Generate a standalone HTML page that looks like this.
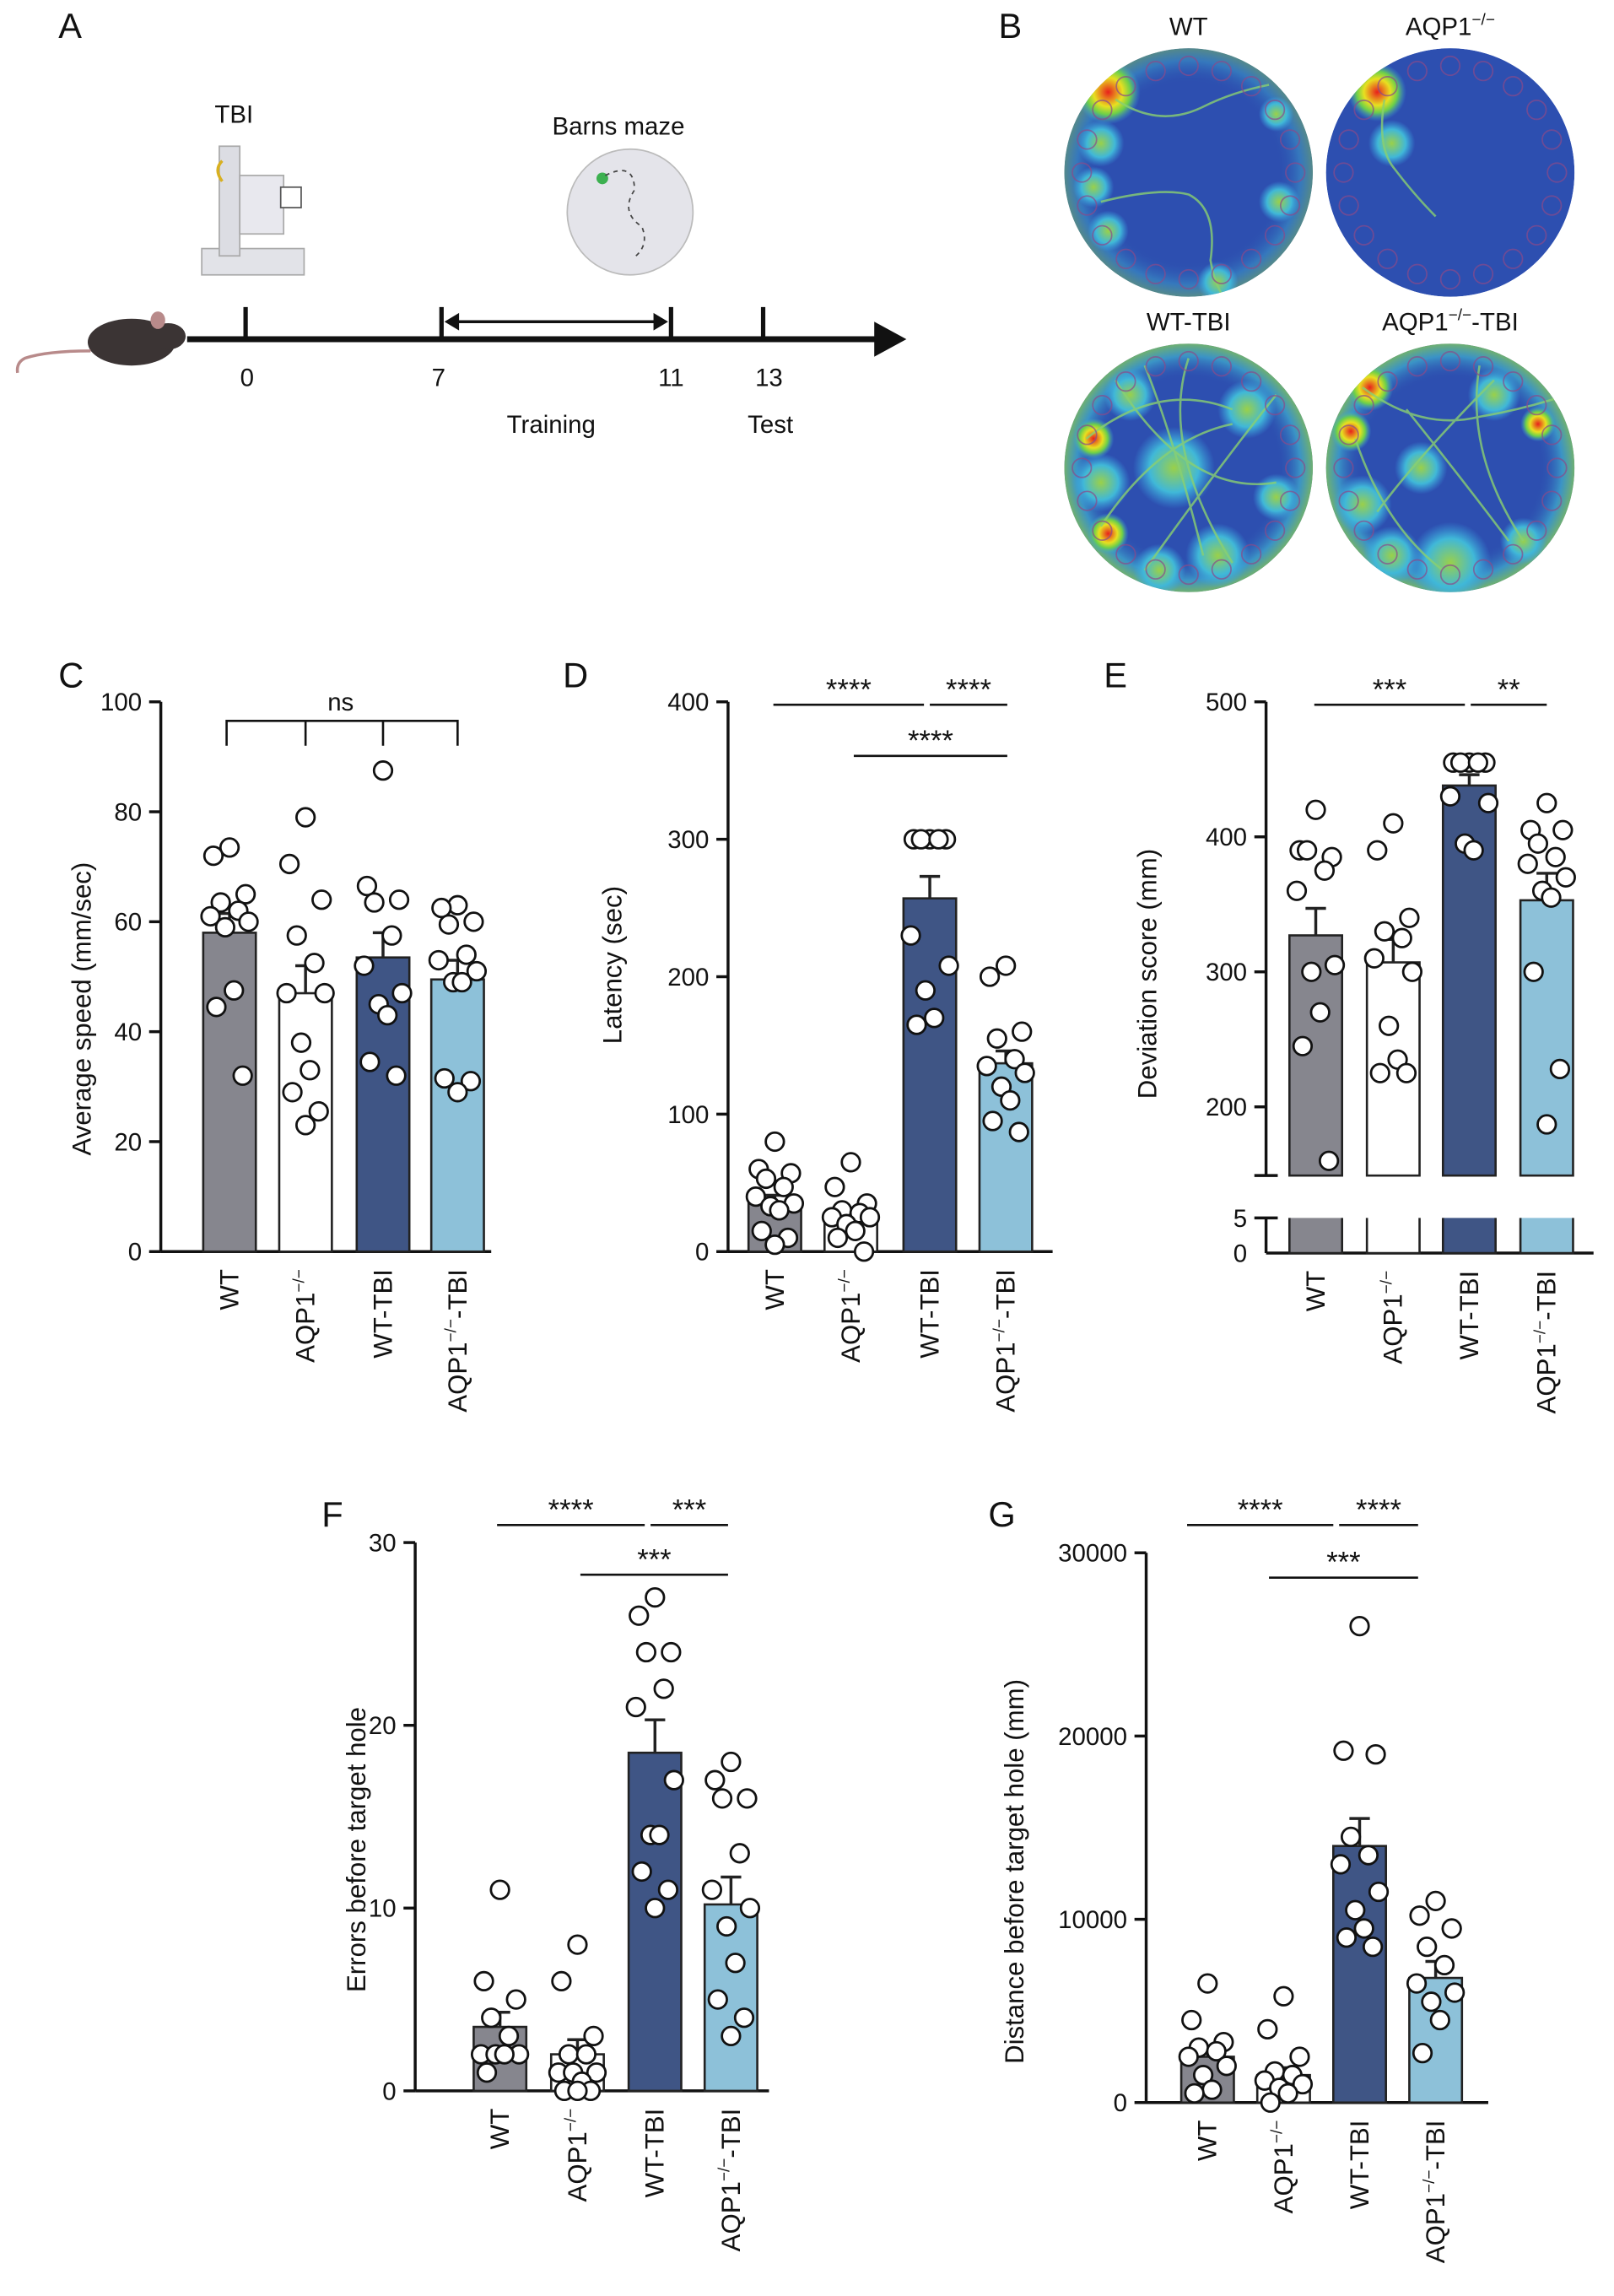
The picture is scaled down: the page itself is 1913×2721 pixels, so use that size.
<!DOCTYPE html>
<html><head><meta charset="utf-8"><style>
html,body{margin:0;padding:0;background:#fff}
svg{display:block}
text{font-family:"Liberation Sans",sans-serif;fill:#111}
</style></head><body>
<svg id="fig" width="1913" height="2721" viewBox="0 0 1104 1570.3" preserveAspectRatio="none" xmlns="http://www.w3.org/2000/svg">
<defs id="defs">
<radialGradient id="hot"><stop offset="0" stop-color="#e8201c"/><stop offset="0.45" stop-color="#e8e020"/><stop offset="0.7" stop-color="#6ccf4a"/><stop offset="1" stop-color="#3aa0e0" stop-opacity="0"/></radialGradient>
<radialGradient id="warm"><stop offset="0" stop-color="#9ad04a"/><stop offset="0.6" stop-color="#40b8d8"/><stop offset="1" stop-color="#3aa0e0" stop-opacity="0"/></radialGradient>
<radialGradient id="edge" cx="0.5" cy="0.5" r="0.5"><stop offset="0.72" stop-color="#2d4fb0" stop-opacity="0"/><stop offset="0.9" stop-color="#40b0d0" stop-opacity="0.7"/><stop offset="1" stop-color="#80c860" stop-opacity="0.8"/></radialGradient>
</defs>
<g>
<text x="40" y="26" font-size="24">A</text>
<text x="160" y="84" font-size="17" text-anchor="middle">TBI</text>
<g>
<rect x="138" y="170" width="70" height="18" fill="#e2e3e8" stroke="#aaa"/>
<rect x="150" y="100" width="14" height="75" fill="#dcdde3" stroke="#aaa"/>
<rect x="164" y="120" width="30" height="40" fill="#e8e8ee" stroke="#aaa"/>
<rect x="192" y="128" width="14" height="14" fill="#fff" stroke="#555"/>
<path d="M152 110 q-6 6 0 14" stroke="#d8b020" stroke-width="2" fill="none"/>
</g>
<text x="423" y="92" font-size="17" text-anchor="middle">Barns maze</text>
<circle cx="431" cy="145" r="43" fill="#e4e4ea" stroke="#bbb"/>
<circle cx="412" cy="122" r="4" fill="#3cb050"/>
<path d="M414 120 q20 -10 20 10 q-10 15 5 25 q5 12 -4 20" stroke="#444" stroke-dasharray="3,3" fill="none"/>
<g>
<ellipse cx="90" cy="234" rx="30" ry="16" fill="#3b3434"/>
<ellipse cx="115" cy="230" rx="12" ry="9" fill="#3b3434"/>
<ellipse cx="108" cy="219" rx="5" ry="6" fill="#b88a8a"/>
<path d="M62 240 q-30 0 -45 5 q-6 3 -5 10" stroke="#b88a8a" stroke-width="2" fill="none"/>
</g>
<g>
<line x1="128" y1="232" x2="602" y2="232" stroke="#111" stroke-width="4"/>
<polygon points="598,220 620,232 598,244" fill="#111"/>
<line x1="168" y1="210" x2="168" y2="232" stroke="#111" stroke-width="3"/>
<line x1="302" y1="210" x2="302" y2="232" stroke="#111" stroke-width="3"/>
<line x1="459" y1="210" x2="459" y2="232" stroke="#111" stroke-width="3"/>
<line x1="522" y1="210" x2="522" y2="232" stroke="#111" stroke-width="3"/>
<line x1="306" y1="220" x2="455" y2="220" stroke="#111" stroke-width="2"/>
<polygon points="304,220 314,214 314,226" fill="#111"/><polygon points="457,220 447,214 447,226" fill="#111"/>
<text x="169" y="264" font-size="17" text-anchor="middle">0</text>
<text x="300" y="264" font-size="17" text-anchor="middle">7</text>
<text x="459" y="264" font-size="17" text-anchor="middle">11</text>
<text x="526" y="264" font-size="17" text-anchor="middle">13</text>
<text x="377" y="296" font-size="17" text-anchor="middle">Training</text>
<text x="527" y="296" font-size="17" text-anchor="middle">Test</text>
</g>
</g>
<g>
<text x="683" y="26" font-size="24">B</text>
<text x="813" y="24" font-size="17" text-anchor="middle">WT</text>
<text x="992" y="24" font-size="17" text-anchor="middle">AQP1<tspan font-size="11" dy="-7">−/−</tspan></text>
<text x="813" y="226" font-size="17" text-anchor="middle">WT-TBI</text>
<text x="992" y="226" font-size="17" text-anchor="middle">AQP1<tspan font-size="11" dy="-7">−/−</tspan><tspan dy="7">-TBI</tspan></text>
<g id="heat"></g>
</g>
<g id="charts"></g>
</svg>
<script>
const NS="http://www.w3.org/2000/svg";
function mk(parent,tag,attrs,txt){const e=document.createElementNS(NS,tag);for(const k in attrs)e.setAttribute(k,attrs[k]);if(txt!==undefined)e.textContent=txt;parent.appendChild(e);return e;}

const categories=["WT","AQP1-/-","WT-TBI","AQP1-/--TBI"];
const speedMeans=[58,47,53.5,49.5];
const speedErr=[3.5,5,4.5,3.5];
const speedPoints=[[73.5,72,65,63.5,62,61,60,59,47.5,44.5,32],[79,70.5,64,57.5,52.5,47,47,38,33,29,25.5,23],[87.5,66.5,64,63.5,57.5,52,47,45,43,34.5,32],[63,62.5,60,59.5,54,53,51,49,49,31.5,31,29]];
const speedTicks=[0,20,40,60,80,100];
const latMeans=[35,25,257,137];
const latErr=[6,5,16,9];
const latPoints=[[80,60,57,53,47,40,35,33,30,15,10,5],[65,47,35,30,28,25,25,20,15,10,0],[300,300,300,300,300,230,208,190,170,165],[208,200,160,155,140,135,130,120,110,95,87]];
const latTicks=[0,100,200,300,400];
const devMeans=[327,307,438,353];
const devErr=[20,17,8,20];
const devPoints=[[420,390,385,390,375,360,305,300,270,245,160],[410,390,340,330,325,310,300,260,235,225,225],[455,455,455,455,455,430,425,395,390],[425,405,405,395,385,380,370,360,355,300,228,187]];
const devTicks=[200,300,400,500];
const errMeans=[3.5,2,18.5,10.2];
const errErr=[0.8,0.8,1.8,1.5];
const errPoints=[[11,6,5,4,3,2,2,2,2,1],[8,6,3,2,2,1,1,1,0.5,0,0,0],[27,26,24,24,22,21,17,14,14,12,11,10],[18,17,16,16,13,11,10,9,7,5,4,3]];
const errTicks=[0,10,20,30];
const distMeans=[2500,1500,14000,6800];
const distErr=[500,400,1500,900];
const distPoints=[[6500,4500,3300,3000,2800,2500,2000,1500,700,500],[5800,4000,2500,1700,1500,1200,1000,800,500,0],[26000,19200,19000,14500,13500,13000,11500,10500,9500,9000,8500],[11000,10200,9500,8500,7500,6500,6000,5500,4500,2700]];
const distTicks=[0,10000,20000,30000];

const colors=["#86868e","#ffffff","#3f5585","#8dc1d9"];
const root=document.getElementById('charts');

function xlabel(g,x,y,i){
  const t=mk(g,'text',{x:x,y:y,'font-size':18,'text-anchor':'end',transform:`rotate(-90 ${x} ${y})`,dy:'6'});
  
  
  if(i===0){t.textContent="WT";}
  else if(i===2){t.textContent="WT-TBI";}
  else{ mk(t,'tspan',{},"AQP1"); mk(t,'tspan',{'font-size':11,dy:'-7'},"−/−"); if(i===3) mk(t,'tspan',{dy:'7'},"-TBI"); }
}

function chart(o){
  const g=mk(root,'g',{});
  
  
  const y=o.y;
  const lab=mk(g,'text',{x:o.lx,y:o.ly,'font-size':24},o.letter);
  
  
  mk(g,'line',{x1:o.ax,y1:o.axTop,x2:o.ax,y2:o.axBot,stroke:'#111','stroke-width':2});
  if(o.brk){mk(g,'line',{x1:o.ax,y1:o.brk[1],x2:o.ax,y2:o.base,stroke:'#111','stroke-width':2});
    mk(g,'line',{x1:o.ax-8,y1:o.brk[0],x2:o.ax+8,y2:o.brk[0],stroke:'#111','stroke-width':2});
    mk(g,'line',{x1:o.ax-8,y1:o.brk[1],x2:o.ax+8,y2:o.brk[1],stroke:'#111','stroke-width':2});
    [[0,o.base],[5,o.brk[1]]].forEach(p=>{mk(g,'text',{x:o.ax-13,y:p[1]+6,'font-size':17,'text-anchor':'end'},p[0]);});
  }
  mk(g,'line',{x1:o.ax,y1:o.base,x2:o.axEnd,y2:o.base,stroke:'#111','stroke-width':2});
  o.ticks.forEach(t=>{const ty=y(t);mk(g,'line',{x1:o.ax-8,y1:ty,x2:o.ax,y2:ty,stroke:'#111','stroke-width':2});
    const tl=mk(g,'text',{x:o.ax-13,y:ty+6,'font-size':17,'text-anchor':'end'},t);
    
    });
  const yt=mk(g,'text',{x:o.tx,y:o.ty,'font-size':18,'text-anchor':'middle',transform:`rotate(-90 ${o.tx} ${o.ty})`},o.title);
  
  
  const bw=36;
  o.means.forEach((m,i)=>{
    const cx=o.bx[i];
    if(o.brk){
      mk(g,'rect',{x:cx-bw/2,y:y(m),width:bw,height:o.brk[0]-y(m),fill:colors[i],stroke:'#222','stroke-width':1.5});
      const b2=mk(g,'path',{d:`M${cx-bw/2} ${o.brk[1]} V${o.base} H${cx+bw/2} V${o.brk[1]}`,fill:colors[i],stroke:'#222','stroke-width':1.5});
      
      
    }else{
      const b=mk(g,'rect',{x:cx-bw/2,y:y(m),width:bw,height:o.base-y(m),fill:colors[i],stroke:'#222','stroke-width':1.5});
      
      
    }
    const e1=y(m+o.err[i]);
    mk(g,'line',{x1:cx,y1:y(m),x2:cx,y2:e1,stroke:'#222','stroke-width':2});
    mk(g,'line',{x1:cx-7,y1:e1,x2:cx+7,y2:e1,stroke:'#222','stroke-width':2});
    o.points[i].forEach((v,j)=>{
      const off=[0,-11,11,-6,6,-13,13,-3,3,-9,9,0][j%12];
      const c=mk(g,'circle',{cx:cx+off,cy:y(v),r:6.2,fill:'#fff',stroke:'#111','stroke-width':1.6});
      
      
    });
    xlabel(g,cx,o.base+12,i);
  });
  (o.sig||[]).forEach(s=>{
    mk(g,'line',{x1:s[0],y1:s[2],x2:s[1],y2:s[2],stroke:'#111','stroke-width':1.5});
    const st=mk(g,'text',{x:(s[0]+s[1])/2,y:s[2]-4,'font-size':20,'text-anchor':'middle'},s[3]);
    
    
  });
  return g;
}
function lin(v0,p0,v1,p1){return v=>p0+(v-v0)*(p1-p0)/(v1-v0);}

const gC=chart({name:'panel-c-speed',letter:'C',lx:40,ly:470,ax:110,axTop:480,axBot:856,base:856,axEnd:336,y:lin(0,856,100,480),ticks:speedTicks,
  title:'Average speed (mm/sec)',tx:62,ty:690,means:speedMeans,err:speedErr,points:speedPoints,bx:[157,209,262,313]});
mk(gC,'path',{d:'M155 510 V493 H313 V510 M209 493 V510 M262 493 V510',stroke:'#111','stroke-width':1.5,fill:'none'});
mk(gC,'text',{x:233,y:486,'font-size':17,'text-anchor':'middle'},'ns');

chart({name:'panel-d-latency',letter:'D',lx:385,ly:470,ax:498,axTop:480,axBot:856,base:856,axEnd:720,y:lin(0,856,400,480),ticks:latTicks,
  title:'Latency (sec)',tx:425,ty:660,means:latMeans,err:latErr,points:latPoints,bx:[530,582,636,688],
  sig:[[529,632,482,'****'],[636,689,482,'****'],[584,689,517,'****']]});

chart({name:'panel-e-deviation',letter:'E',lx:755,ly:470,ax:866,axTop:480,axBot:804,base:857,axEnd:1090,y:lin(200,757,500,480),ticks:devTicks,brk:[804,833],
  title:'Deviation score (mm)',tx:791,ty:666,means:devMeans,err:devErr,points:devPoints,bx:[900,953,1005,1058],
  sig:[[899,1002,482,'***'],[1006,1058,482,'**']]});

chart({name:'panel-f-errors',letter:'F',lx:220,ly:1044,ax:284,axTop:1055,axBot:1430,base:1430,axEnd:526,y:lin(0,1430,30,1055),ticks:errTicks,
  title:'Errors before target hole',tx:250,ty:1265,means:errMeans,err:errErr,points:errPoints,bx:[342,395,448,500],
  sig:[[340,441,1043,'****'],[445,498,1043,'***'],[397,498,1077,'***']]});

chart({name:'panel-g-distance',letter:'G',lx:676,ly:1044,ax:784,axTop:1062,axBot:1438,base:1438,axEnd:1018,y:lin(0,1438,30000,1062),ticks:distTicks,
  title:'Distance before target hole (mm)',tx:700,ty:1280,means:distMeans,err:distErr,points:distPoints,bx:[826,878,930,982],
  sig:[[812,912,1043,'****'],[916,970,1043,'****'],[868,970,1079,'***']]});

const heat=document.getElementById('heat');
const defs=document.getElementById('defs');
const maps=[[813,118,1,[[-55,-55,'hot',22],[-60,-20,'warm',16],[60,-40,'warm',12],[62,20,'warm',14],[-55,40,'warm',14],[20,75,'warm',14],[-65,10,'warm',14]],"M-50 -50 q30 20 60 5 q20 -10 45 -15 M-60 20 q40 -10 60 -5 q20 10 15 45 q5 30 25 40"],
  [992,118,0,[[-50,-55,'hot',20],[-40,-20,'warm',16]],"M-45 -50 q-5 30 5 45 q15 20 30 35"],
  [813,320,2,[[-65,-20,'hot',14],[-55,45,'hot',14],[-10,0,'warm',28],[40,-40,'warm',20],[20,60,'warm',22],[-40,-50,'warm',18],[60,20,'warm',16],[-60,10,'warm',20],[-20,70,'warm',18]],"M-70 -20 q50 -40 100 -20 M-60 40 q40 -60 90 -70 M-30 -70 q20 50 40 130 M0 -75 q-20 60 30 140 M60 -50 q-40 50 -90 120 M-50 -60 q50 80 110 70"],
  [992,320,2,[[-55,-55,'hot',16],[-68,-25,'hot',14],[60,-30,'hot',12],[-60,25,'warm',20],[0,65,'warm',28],[30,-50,'warm',18],[-20,0,'warm',18],[-40,60,'warm',20],[50,50,'warm',16]],"M-60 -55 q40 30 80 20 q30 -5 60 -15 M-50 30 q30 -40 80 -90 M-30 -40 q40 50 70 90 M-65 -20 q20 60 60 90 M20 -70 q-10 60 30 120"]];
maps.forEach((m,idx)=>{
  const cx=m[0],cy=m[1];
  const cp=mk(defs,'clipPath',{id:'clip'+idx});
  mk(cp,'circle',{cx:cx,cy:cy,r:85});
  const g=mk(heat,'g',{'clip-path':`url(#clip${idx})`});
  
  
  mk(g,'circle',{cx:cx,cy:cy,r:85,fill:'#2d4fb0'});
  if(m[2]>0) mk(g,'circle',{cx:cx,cy:cy,r:85,fill:'url(#edge)','fill-opacity':m[2]>1?1:0.6});
  m[3].forEach(b=>mk(g,'circle',{cx:cx+b[0],cy:cy+b[1],r:b[3],fill:`url(#${b[2]})`}));
  mk(g,'path',{d:m[4],transform:`translate(${cx} ${cy})`,stroke:'#8ad070','stroke-width':1.5,fill:'none','stroke-opacity':0.8});
  for(let k=0;k<20;k++){const a=k/20*2*Math.PI;mk(g,'circle',{cx:cx+73*Math.cos(a),cy:cy+73*Math.sin(a),r:6.5,fill:'none',stroke:'#8a4a8a','stroke-width':1,'stroke-opacity':0.7});}
});
</script>
</body></html>
